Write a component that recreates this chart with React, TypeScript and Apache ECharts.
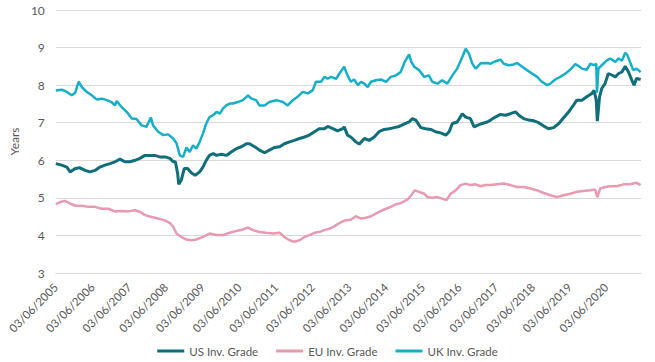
import React, { useEffect, useRef } from 'react';
import * as echarts from 'echarts';

const tickLabels = [
  '03/06/2005', '03/06/2006', '03/06/2007', '03/06/2008', '03/06/2009', '03/06/2010',
  '03/06/2011', '03/06/2012', '03/06/2013', '03/06/2014', '03/06/2015', '03/06/2016',
  '03/06/2017', '03/06/2018', '03/06/2019', '03/06/2020',
];
const startYear = 2005.42;
const endYear = 2021.37;

const seriesNames = ['US Inv. Grade', 'EU Inv. Grade', 'UK Inv. Grade'];
const seriesColors = ['#0f6e7a', '#e79ab0', '#17afc8'];

// [decimal year, duration in years]
const usSeries: [number, number][] = [
  [2005.42, 5.91], [2005.58, 5.87], [2005.72, 5.82], [2005.81, 5.69], [2005.95, 5.78], [2006.08, 5.80],
  [2006.22, 5.73], [2006.35, 5.69], [2006.49, 5.73], [2006.62, 5.82], [2006.76, 5.87], [2006.90, 5.91],
  [2007.03, 5.96], [2007.17, 6.03], [2007.30, 5.96], [2007.44, 5.96], [2007.58, 6.00], [2007.71, 6.05],
  [2007.85, 6.13], [2007.98, 6.13], [2008.12, 6.13], [2008.25, 6.09], [2008.39, 6.09], [2008.53, 6.05],
  [2008.62, 5.96], [2008.68, 5.96], [2008.74, 5.65], [2008.77, 5.36], [2008.84, 5.47], [2008.92, 5.78],
  [2009.01, 5.78], [2009.12, 5.66], [2009.22, 5.60], [2009.34, 5.69], [2009.43, 5.82], [2009.52, 6.00],
  [2009.61, 6.13], [2009.71, 6.18], [2009.80, 6.13], [2009.93, 6.16], [2010.07, 6.13], [2010.20, 6.22],
  [2010.34, 6.31], [2010.48, 6.36], [2010.61, 6.44], [2010.70, 6.44], [2010.84, 6.36], [2010.97, 6.27],
  [2011.11, 6.20], [2011.24, 6.27], [2011.38, 6.34], [2011.52, 6.36], [2011.65, 6.44], [2011.79, 6.49],
  [2011.92, 6.53], [2012.06, 6.58], [2012.20, 6.62], [2012.33, 6.67], [2012.47, 6.76], [2012.60, 6.84],
  [2012.74, 6.84], [2012.83, 6.90], [2012.97, 6.84], [2013.10, 6.78], [2013.24, 6.84], [2013.28, 6.89],
  [2013.37, 6.67], [2013.46, 6.62], [2013.60, 6.49], [2013.69, 6.43], [2013.83, 6.58], [2013.96, 6.53],
  [2014.10, 6.62], [2014.23, 6.76], [2014.37, 6.82], [2014.51, 6.84], [2014.64, 6.87], [2014.78, 6.90],
  [2014.91, 6.96], [2015.05, 7.02], [2015.14, 7.11], [2015.23, 7.07], [2015.37, 6.87], [2015.50, 6.84],
  [2015.64, 6.82], [2015.77, 6.76], [2015.91, 6.73], [2016.05, 6.67], [2016.14, 6.76], [2016.23, 6.98],
  [2016.36, 7.02], [2016.50, 7.24], [2016.59, 7.15], [2016.72, 7.11], [2016.82, 6.89], [2016.91, 6.93],
  [2017.04, 6.98], [2017.18, 7.02], [2017.27, 7.07], [2017.40, 7.15], [2017.54, 7.22], [2017.68, 7.20],
  [2017.81, 7.24], [2017.95, 7.29], [2018.04, 7.20], [2018.17, 7.11], [2018.31, 7.07], [2018.45, 7.05],
  [2018.58, 7.00], [2018.72, 6.91], [2018.85, 6.84], [2018.99, 6.87], [2019.13, 6.98], [2019.26, 7.13],
  [2019.40, 7.29], [2019.53, 7.47], [2019.62, 7.60], [2019.76, 7.60], [2019.89, 7.69], [2020.03, 7.78],
  [2020.09, 7.86], [2020.15, 7.60], [2020.18, 7.04], [2020.24, 7.69], [2020.30, 7.91], [2020.39, 8.04],
  [2020.48, 8.31], [2020.57, 8.27], [2020.67, 8.22], [2020.76, 8.31], [2020.85, 8.35], [2020.94, 8.50],
  [2021.03, 8.35], [2021.12, 8.13], [2021.18, 8.00], [2021.25, 8.18], [2021.36, 8.15],
];

const euSeries: [number, number][] = [
  [2005.42, 4.83], [2005.54, 4.89], [2005.67, 4.92], [2005.81, 4.85], [2005.95, 4.79], [2006.13, 4.79],
  [2006.31, 4.76], [2006.49, 4.76], [2006.67, 4.71], [2006.85, 4.71], [2007.03, 4.64], [2007.21, 4.65],
  [2007.39, 4.64], [2007.58, 4.67], [2007.71, 4.63], [2007.85, 4.54], [2008.03, 4.49], [2008.21, 4.45],
  [2008.39, 4.40], [2008.53, 4.33], [2008.62, 4.23], [2008.71, 4.05], [2008.84, 3.96], [2008.98, 3.89],
  [2009.12, 3.87], [2009.25, 3.89], [2009.43, 3.96], [2009.61, 4.05], [2009.80, 4.01], [2009.98, 4.01],
  [2010.16, 4.07], [2010.34, 4.12], [2010.52, 4.16], [2010.66, 4.21], [2010.79, 4.14], [2010.97, 4.09],
  [2011.15, 4.07], [2011.34, 4.05], [2011.52, 4.07], [2011.65, 3.96], [2011.79, 3.87], [2011.92, 3.83],
  [2012.06, 3.87], [2012.20, 3.96], [2012.33, 4.01], [2012.47, 4.07], [2012.60, 4.09], [2012.74, 4.14],
  [2012.88, 4.18], [2013.01, 4.24], [2013.15, 4.33], [2013.30, 4.40], [2013.46, 4.42], [2013.60, 4.51],
  [2013.74, 4.45], [2013.87, 4.47], [2014.01, 4.51], [2014.14, 4.58], [2014.28, 4.65], [2014.42, 4.71],
  [2014.55, 4.76], [2014.69, 4.83], [2014.82, 4.86], [2015.00, 4.95], [2015.11, 5.07], [2015.20, 5.20],
  [2015.32, 5.16], [2015.46, 5.11], [2015.55, 5.02], [2015.68, 5.00], [2015.82, 5.02], [2015.95, 4.98],
  [2016.07, 4.94], [2016.18, 5.11], [2016.32, 5.20], [2016.45, 5.34], [2016.59, 5.38], [2016.72, 5.34],
  [2016.86, 5.36], [2017.00, 5.31], [2017.13, 5.34], [2017.27, 5.34], [2017.45, 5.36], [2017.63, 5.38],
  [2017.81, 5.34], [2017.99, 5.29], [2018.17, 5.29], [2018.36, 5.25], [2018.54, 5.20], [2018.72, 5.13],
  [2018.90, 5.07], [2019.08, 5.02], [2019.26, 5.07], [2019.44, 5.11], [2019.62, 5.16], [2019.80, 5.18],
  [2019.99, 5.20], [2020.12, 5.22], [2020.18, 5.02], [2020.26, 5.25], [2020.39, 5.29], [2020.53, 5.31],
  [2020.71, 5.31], [2020.89, 5.36], [2021.07, 5.36], [2021.25, 5.40], [2021.36, 5.34],
];

const ukSeries: [number, number][] = [
  [2005.42, 7.86], [2005.58, 7.88], [2005.72, 7.82], [2005.85, 7.73], [2005.95, 7.80], [2006.04, 8.09],
  [2006.13, 7.95], [2006.26, 7.82], [2006.40, 7.73], [2006.53, 7.62], [2006.67, 7.64], [2006.81, 7.60],
  [2006.94, 7.55], [2007.03, 7.46], [2007.08, 7.58], [2007.21, 7.42], [2007.35, 7.29], [2007.49, 7.11],
  [2007.62, 7.10], [2007.76, 6.93], [2007.89, 6.89], [2008.01, 7.14], [2008.07, 6.93], [2008.21, 6.76],
  [2008.35, 6.67], [2008.48, 6.69], [2008.62, 6.58], [2008.71, 6.45], [2008.80, 6.13], [2008.89, 6.09],
  [2008.98, 6.34], [2009.07, 6.22], [2009.16, 6.40], [2009.25, 6.31], [2009.34, 6.49], [2009.43, 6.71],
  [2009.52, 6.98], [2009.61, 7.15], [2009.71, 7.20], [2009.80, 7.29], [2009.89, 7.24], [2009.98, 7.38],
  [2010.07, 7.46], [2010.16, 7.51], [2010.25, 7.51], [2010.38, 7.55], [2010.52, 7.60], [2010.66, 7.73],
  [2010.75, 7.64], [2010.88, 7.60], [2010.97, 7.46], [2011.11, 7.46], [2011.24, 7.55], [2011.43, 7.60],
  [2011.61, 7.55], [2011.74, 7.46], [2011.88, 7.60], [2012.01, 7.69], [2012.15, 7.82], [2012.29, 7.78],
  [2012.42, 7.86], [2012.51, 8.09], [2012.65, 8.09], [2012.74, 8.22], [2012.83, 8.17], [2012.92, 8.22],
  [2013.06, 8.17], [2013.15, 8.31], [2013.28, 8.49], [2013.37, 8.26], [2013.46, 8.09], [2013.55, 8.15],
  [2013.65, 8.00], [2013.74, 8.09], [2013.83, 8.04], [2013.92, 7.95], [2014.01, 8.09], [2014.14, 8.13],
  [2014.28, 8.15], [2014.42, 8.09], [2014.55, 8.22], [2014.69, 8.26], [2014.82, 8.35], [2014.93, 8.62],
  [2015.05, 8.82], [2015.11, 8.62], [2015.19, 8.49], [2015.32, 8.40], [2015.46, 8.22], [2015.59, 8.26],
  [2015.68, 8.09], [2015.82, 8.04], [2015.95, 8.13], [2016.09, 8.04], [2016.23, 8.26], [2016.36, 8.44],
  [2016.50, 8.75], [2016.59, 8.97], [2016.68, 8.84], [2016.77, 8.58], [2016.86, 8.44], [2017.00, 8.58],
  [2017.18, 8.59], [2017.27, 8.57], [2017.36, 8.62], [2017.45, 8.65], [2017.54, 8.68], [2017.63, 8.57],
  [2017.77, 8.53], [2017.90, 8.55], [2017.99, 8.59], [2018.13, 8.49], [2018.26, 8.40], [2018.40, 8.31],
  [2018.54, 8.22], [2018.67, 8.09], [2018.81, 8.00], [2018.90, 8.04], [2019.03, 8.15], [2019.17, 8.22],
  [2019.31, 8.31], [2019.44, 8.41], [2019.58, 8.56], [2019.67, 8.51], [2019.76, 8.44], [2019.89, 8.41],
  [2019.99, 8.57], [2020.08, 8.53], [2020.15, 8.57], [2020.17, 7.80], [2020.21, 8.44], [2020.30, 8.53],
  [2020.44, 8.66], [2020.53, 8.71], [2020.67, 8.62], [2020.76, 8.71], [2020.85, 8.65], [2020.94, 8.86],
  [2021.00, 8.80], [2021.07, 8.62], [2021.16, 8.40], [2021.25, 8.44], [2021.36, 8.35],
];

const allSeries = [usSeries, euSeries, ukSeries];
const lineWidths = [3, 2.5, 2.5];

export default function App() {
  const ref = useRef<HTMLDivElement>(null);

  useEffect(() => {
    const chart = echarts.init(ref.current!, null, { renderer: 'svg' });
    const labelColor = '#595959';
    const font = 'Lato, "Noto Sans", sans-serif';
    chart.setOption({
      animation: false,
      textStyle: { fontFamily: font },
      grid: { left: 54, right: 14, top: 10, bottom: 89 },
      xAxis: {
        type: 'value',
        min: 0,
        max: endYear - startYear,
        interval: 1,
        axisLine: { show: true, lineStyle: { color: '#d9d9d9', width: 1 } },
        axisTick: { show: false },
        splitLine: { show: false },
        axisLabel: {
          rotate: 45,
          margin: 12,
          color: labelColor,
          fontSize: 11.5,
          fontFamily: font,
          showMaxLabel: false,
          formatter: (v: number) => {
            const k = Math.round(v);
            return Math.abs(v - k) < 1e-6 && tickLabels[k] ? tickLabels[k] : '';
          },
        },
      },
      yAxis: {
        type: 'value',
        min: 3,
        max: 10,
        interval: 1,
        name: 'Years',
        nameLocation: 'middle',
        nameGap: 25,
        nameTextStyle: { color: labelColor, fontSize: 12, fontFamily: font },
        axisLine: { show: false },
        axisTick: { show: false },
        axisLabel: { color: labelColor, fontSize: 12, margin: 11, fontFamily: font },
        splitLine: { show: true, lineStyle: { color: '#d9d9d9', width: 1 } },
      },
      legend: {
        bottom: 0,
        left: 'center',
        icon: 'rect',
        itemWidth: 27,
        itemHeight: 3,
        itemGap: 18,
        textStyle: { color: labelColor, fontSize: 11.5, fontFamily: font },
        data: seriesNames,
      },
      series: allSeries.map((s, i) => ({
        name: seriesNames[i],
        type: 'line',
        symbol: 'none',
        data: s.map(([t, v]) => [t - startYear, v]),
        lineStyle: { color: seriesColors[i], width: lineWidths[i] },
        itemStyle: { color: seriesColors[i] },
      })),
    });
    return () => chart.dispose();
  }, []);

  return (
    <div
      ref={ref}
      style={{ position: 'fixed', left: 0, top: 0, width: 655, height: 362, background: '#fff' }}
    />
  );
}
